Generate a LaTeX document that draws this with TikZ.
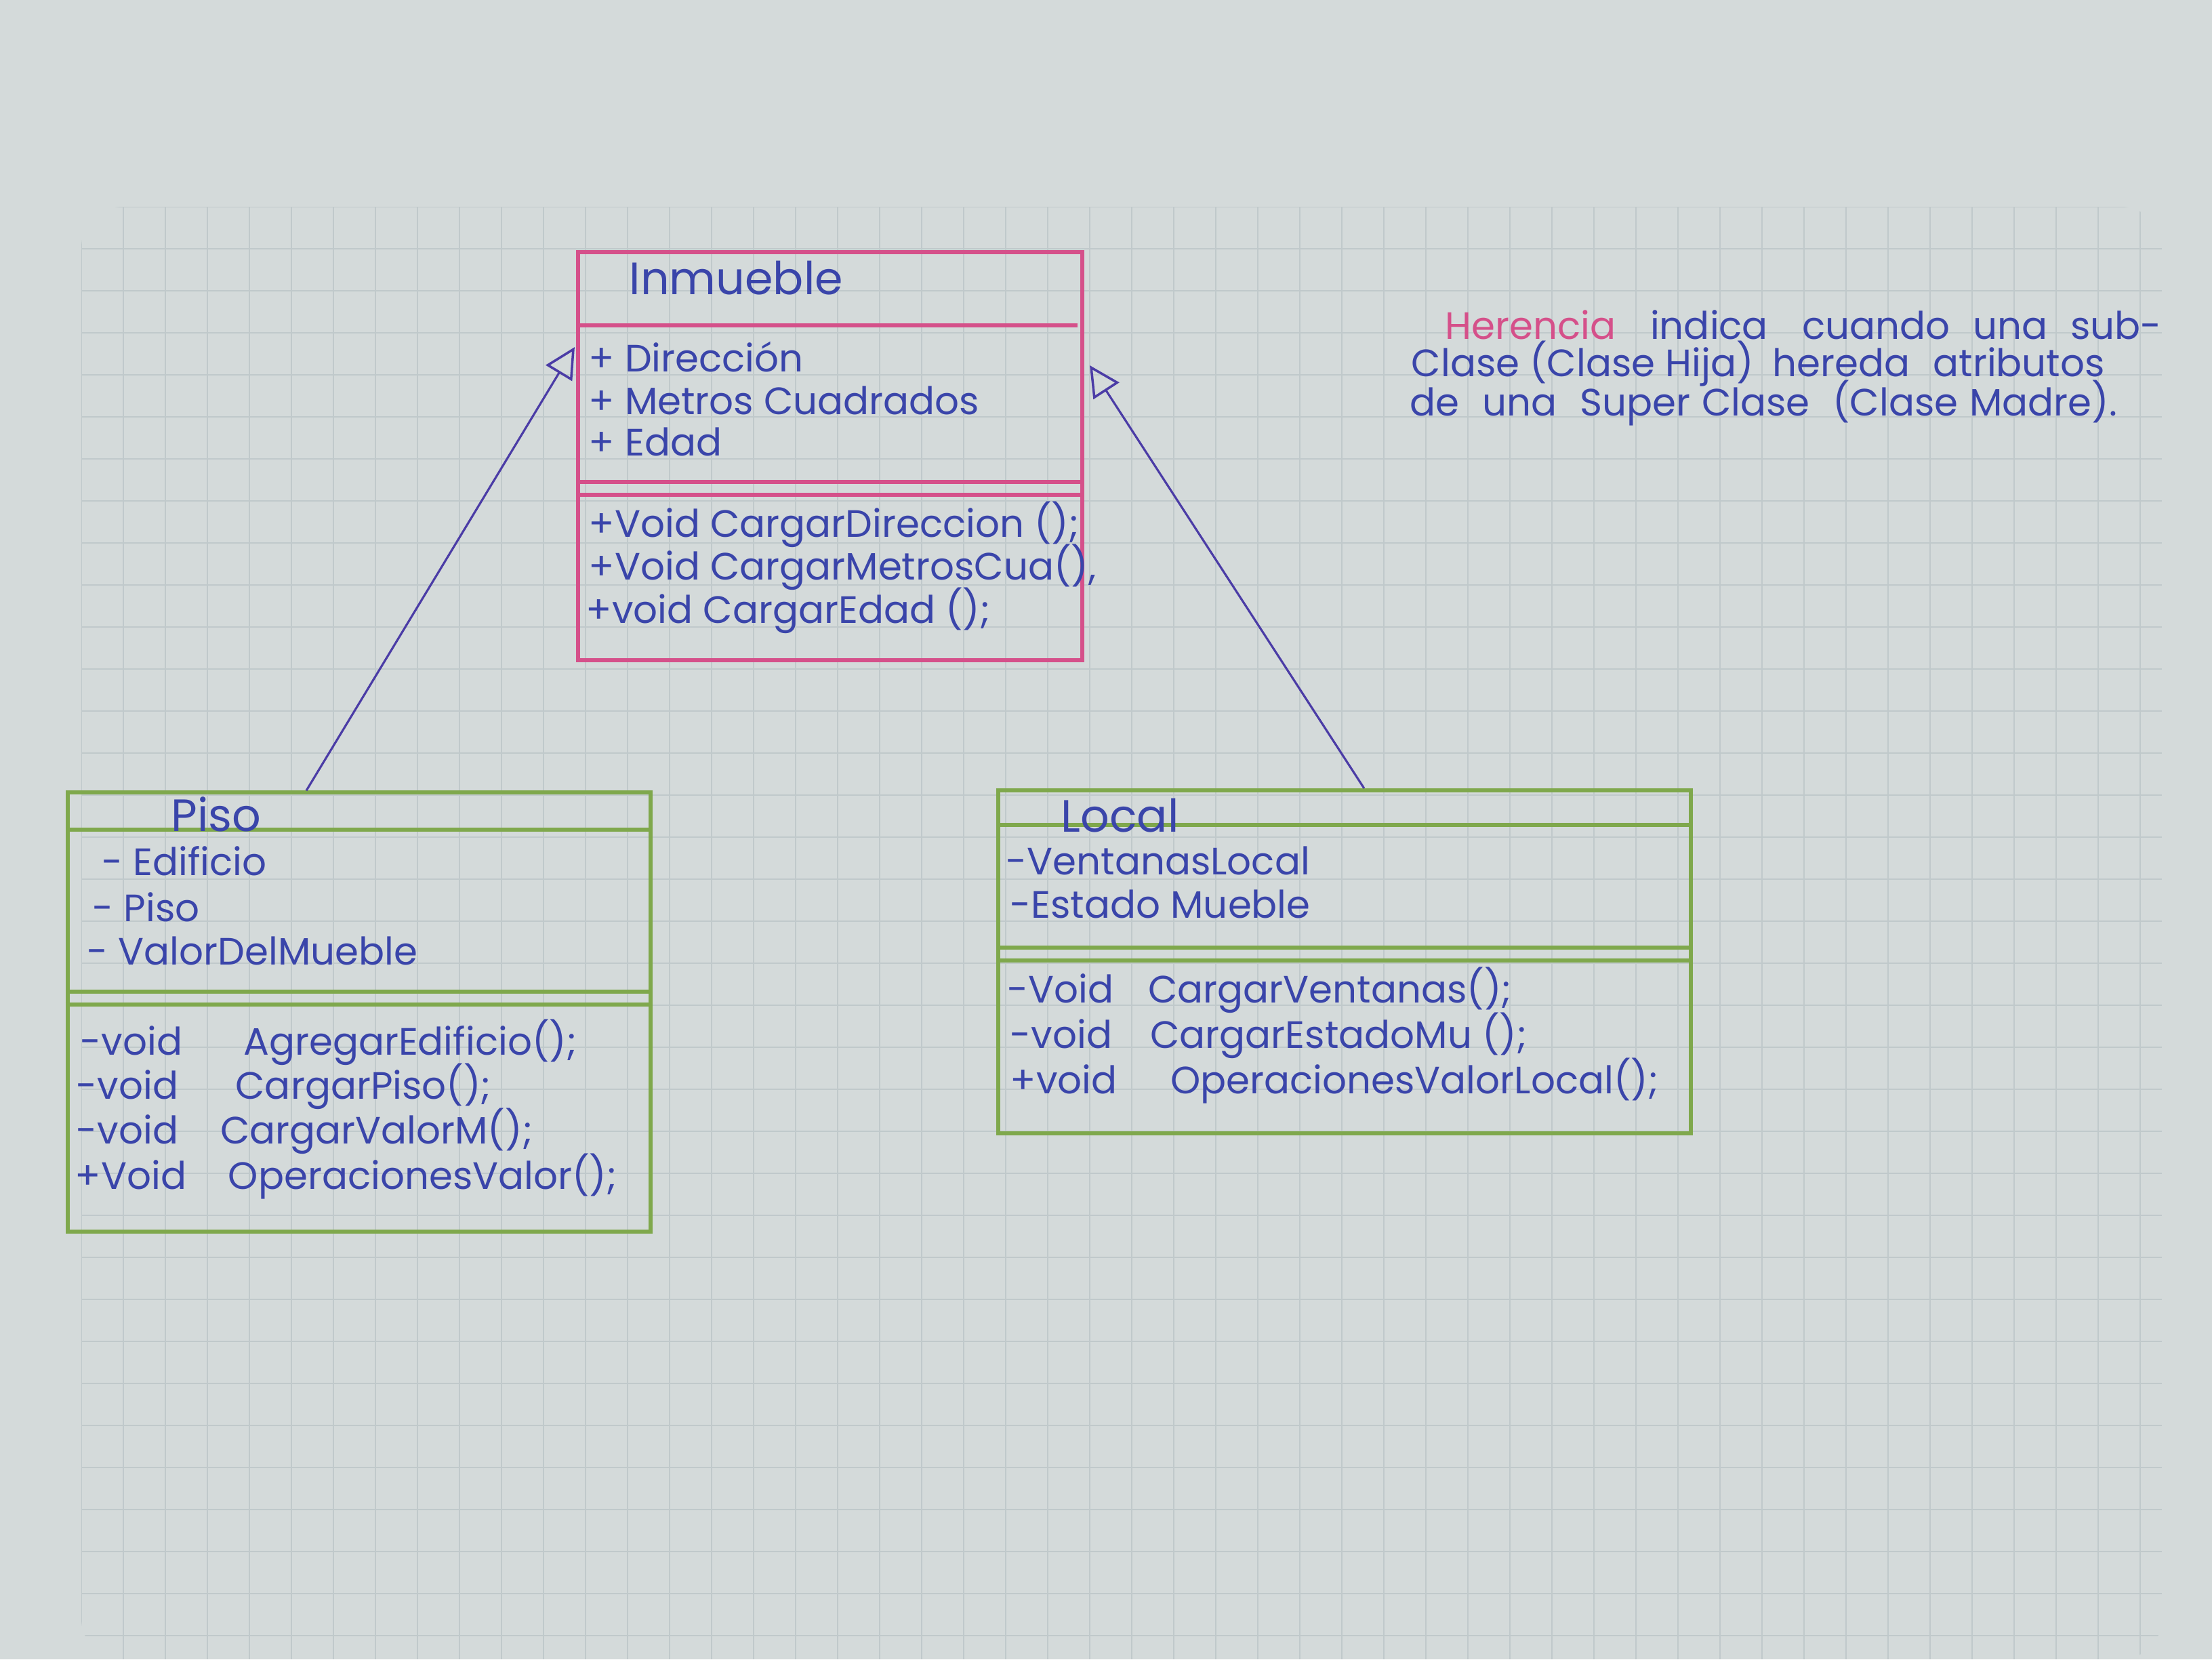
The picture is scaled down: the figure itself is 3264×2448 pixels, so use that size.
\documentclass[tikz,border=0pt]{standalone}
\usepackage{fontspec}
\setmainfont{Poppins}
\usetikzlibrary{calc,arrows.meta}
\definecolor{paper}{HTML}{D4DADA}
\definecolor{gridc}{HTML}{C0C9CB}
\definecolor{pinkc}{HTML}{D5508A}
\definecolor{greenc}{HTML}{7FA84C}
\definecolor{inkc}{HTML}{3A45AA}
\definecolor{arrowc}{HTML}{4B3CA6}
\tikzset{
  x=0.01cm, y=-0.01cm,
  inmbox/.style={draw=pinkc, line width=1.6pt, rectangle, inner sep=0pt},
  subbox/.style={draw=greenc, line width=1.7pt, rectangle, inner sep=0pt},
  pinkline/.style={draw=pinkc, line width=1.6pt},
  greenline/.style={draw=greenc, line width=1.7pt},
  txt/.style={text=inkc, font=\fontsize{16}{18}\selectfont, anchor=west, inner sep=0pt},
  ttl/.style={text=inkc, font=\fontsize{19}{22}\selectfont, anchor=west, inner sep=0pt},
  inherit/.style={draw=arrowc, line width=0.9pt, -{Triangle[open,length=4.5mm,width=4.5mm,line width=1pt]}},
}
\begin{document}
\begin{tikzpicture}
\useasboundingbox (0,0) rectangle (3264,2448);
% paper
\fill[paper] (0,0) rectangle (3264,2448);
\begin{scope}
\clip[rounded corners=0.6cm] (120,305) rectangle (3190,2448);
\foreach \gx in {120,182,...,3190} \draw[gridc, line width=0.4pt] (\gx,305) -- (\gx,2448);
\foreach \gy in {305,367,...,2448} \draw[gridc, line width=0.4pt] (120,\gy) -- (3190,\gy);
\end{scope}

% ---- Inmueble ----
\node[inmbox, minimum width=7.44cm, minimum height=6.02cm] (inm) at (1225,673) {};
\draw[pinkline] ($(inm.north west)+(5,111)$) -- ($(inm.north east)+(-10,111)$);
\draw[pinkline] ($(inm.north west)+(0,342)$) -- ($(inm.north east)+(0,342)$);
\draw[pinkline] ($(inm.north west)+(0,361)$) -- ($(inm.north east)+(0,361)$);
\node[ttl] (inmT) at (928,410) {Inmueble};
\node[txt] (inmA1) at (868,527) {+ Dirección};
\node[txt] (inmA2) at (868,591) {+ Metros Cuadrados};
\node[txt] (inmA3) at (868,652) {+ Edad};
\node[txt] (inmM1) at (868,774) {+Void CargarDireccion ();};
\node[txt] (inmM2) at (868,837) {+Void CargarMetrosCua(),};
\node[txt] (inmM3) at (864,901) {+void CargarEdad ();};

% ---- Piso ----
\node[subbox, minimum width=8.6cm, minimum height=6.47cm] (piso) at (530,1493) {};
\draw[greenline] ($(piso.north west)+(0,58)$) -- ($(piso.north east)+(0,58)$);
\draw[greenline] ($(piso.north west)+(0,297)$) -- ($(piso.north east)+(0,297)$);
\draw[greenline] ($(piso.north west)+(0,316)$) -- ($(piso.north east)+(0,316)$);
\node[ttl] (pisoT) at (252,1201) {Piso};
\node[txt] (pisoA1) at (150,1270) {- Edificio};
\node[txt] (pisoA2) at (136,1338) {- Piso};
\node[txt] (pisoA3) at (128,1403) {- ValorDelMueble};
\node[txt] (pisoM1) at (118,1538) {-void\hspace{1.6em}AgregarEdificio();};
\node[txt] (pisoM2) at (112,1603) {-void\hspace{1.5em}CargarPiso();};
\node[txt] (pisoM3) at (112,1669) {-void\hspace{1.1em}CargarValorM();};
\node[txt] (pisoM4) at (110,1736) {+Void\hspace{1.1em}OperacionesValor();};

% ---- Local ----
\node[subbox, minimum width=10.21cm, minimum height=5.06cm] (local) at (1984,1419) {};
\draw[greenline] ($(local.north west)+(0,54)$) -- ($(local.north east)+(0,54)$);
\draw[greenline] ($(local.north west)+(0,235)$) -- ($(local.north east)+(0,235)$);
\draw[greenline] ($(local.north west)+(0,254)$) -- ($(local.north east)+(0,254)$);
\node[ttl] (localT) at (1565,1203) {Local};
\node[txt] (localA1) at (1484,1270) {-VentanasLocal};
\node[txt] (localA2) at (1490,1334) {-Estado Mueble};
\node[txt] (localM1) at (1486,1461) {-Void\hspace{0.9em}CargarVentanas();};
\node[txt] (localM2) at (1490,1528) {-void\hspace{1em}CargarEstadoMu ();};
\node[txt] (localM3) at (1490,1595) {+void\hspace{1.4em}OperacionesValorLocal();};

% ---- inheritance ----
\coordinate (s1) at ($(piso.north west)!0.41!(piso.north east)$);
\coordinate (e1) at ($(inm.north west)+(-2,143)$);
\draw[inherit] (s1) -- (e1);
\coordinate (s2) at ($(local.north west)!0.528!(local.north east)$);
\coordinate (e2) at ($(inm.north east)+(8,170)$);
\draw[inherit] (s2) -- (e2);

% ---- note ----
\node[txt] (n1) at (2132,479) {\textcolor{pinkc}{Herencia}\hspace{0.9em}indica\hspace{0.9em}cuando\hspace{0.6em}una\hspace{0.6em}sub-};
\node[txt] (n2) at (2082,537) {Clase (Clase Hija)\hspace{0.5em}hereda\hspace{0.6em}atributos};
\node[txt] (n3) at (2080,595) {de\hspace{0.6em}una\hspace{0.6em}Super\hspace{0.3em}Clase\hspace{0.6em}(Clase\hspace{0.3em}Madre).};
\end{tikzpicture}
\end{document}
